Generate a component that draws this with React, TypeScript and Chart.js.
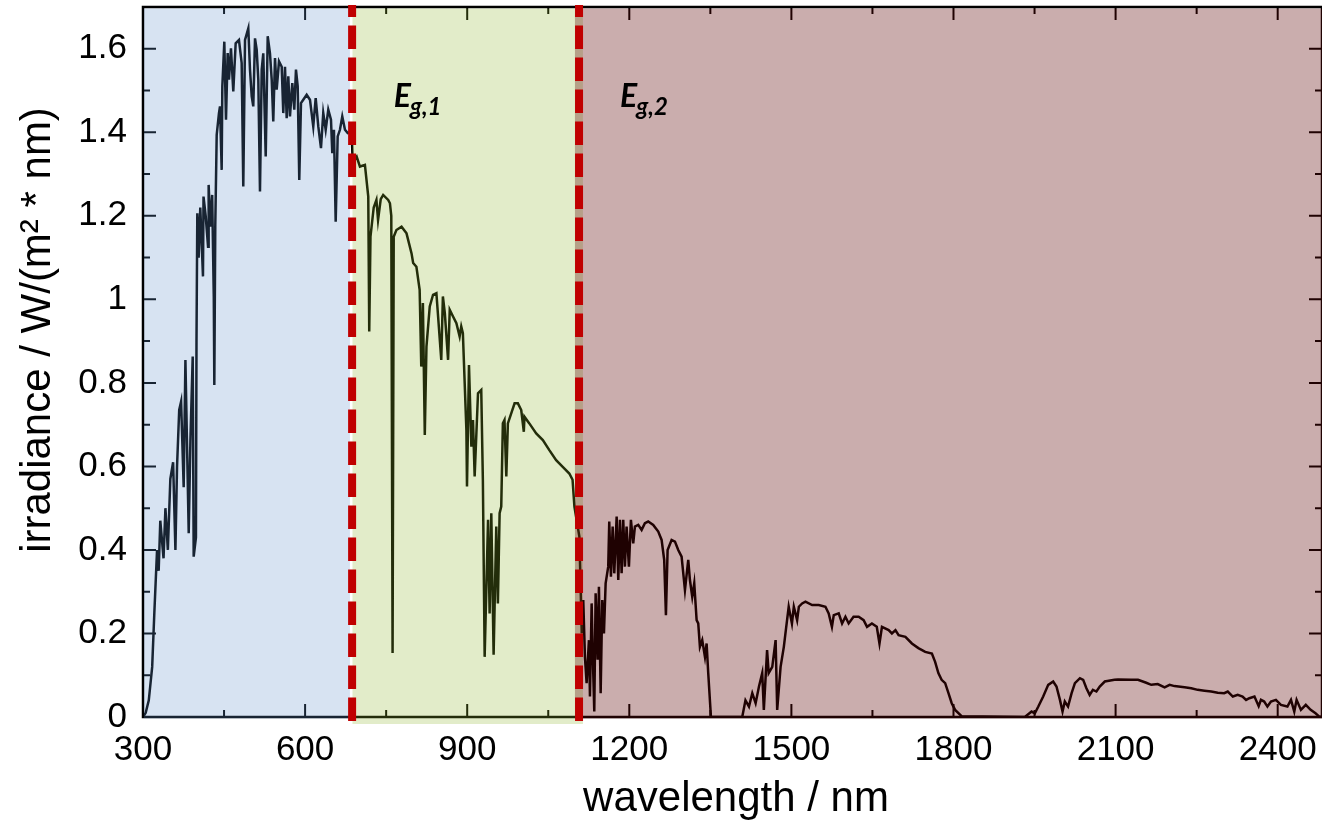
import React, { useEffect, useRef } from "react";
import { Chart, registerables } from "chart.js";

Chart.register(...registerables);

// AM1.5 solar spectrum: [wavelength nm, irradiance W/(m² nm)]
const SPECTRUM_UV_VIS = [
  [300, 0], [305, 0.01], [310.7, 0.04], [317, 0.12], [321, 0.25], [326, 0.4], [329, 0.35], [332, 0.47],
  [338, 0.38], [341.5, 0.5], [346, 0.4], [350.6, 0.57], [355.7, 0.61], [360, 0.4], [363, 0.6], [367, 0.735],
  [370.5, 0.755], [375.3, 0.55], [378.5, 0.855], [384.6, 0.44], [387.7, 0.66], [392, 0.863], [393.8, 0.384],
  [398, 0.43], [399, 0.9], [400.5, 1.206], [403, 1.1], [406, 1.22], [411, 1.055], [412, 1.246], [416, 1.2],
  [420.4, 1.126], [421.5, 1.274], [424.6, 1.174], [428, 1.25], [431, 1.007], [432, 0.795], [433.8, 1.18],
  [436.4, 1.394], [440.6, 1.446], [442.5, 1.462], [445.6, 1.31], [446.8, 1.51], [450.5, 1.617], [453.6, 1.43],
  [456.7, 1.59], [459.1, 1.526], [462.8, 1.601], [467.1, 1.498], [471.5, 1.613], [477.6, 1.621], [482.6, 1.566],
  [485.6, 1.27], [488.8, 1.621], [494.9, 1.649], [498, 1.55], [501.2, 1.486], [504.1, 1.462], [507.3, 1.625],
  [510.4, 1.598], [513.4, 1.526], [516.5, 1.258], [519.7, 1.55], [522.6, 1.589], [527.1, 1.342], [530.8, 1.63],
  [535, 1.589], [538.2, 1.526], [541.1, 1.426], [544.3, 1.578], [547.4, 1.502], [551.7, 1.57], [556.7, 1.557],
  [559.6, 1.446], [562.8, 1.557], [565.9, 1.434], [568.9, 1.534], [572, 1.438], [576.3, 1.518], [580, 1.454],
  [583.1, 1.55], [586.3, 1.51], [589.2, 1.286], [592.4, 1.47], [596.6, 1.478], [602.9, 1.49], [609, 1.478],
  [615.1, 1.414], [619.6, 1.482], [624.4, 1.414], [629.4, 1.362], [633.6, 1.446], [638.1, 1.406], [642.9, 1.454],
  [647.9, 1.43], [650.3, 1.35], [653.4, 1.406], [656.6, 1.186], [660.3, 1.39], [664.5, 1.406], [668.8, 1.438],
  [673.8, 1.406], [678.8, 1.398], [683, 1.4], [686, 1.41],
];

const SPECTRUM_NIR_1 = [
  [688, 1.33], [695.4, 1.342], [701.5, 1.318], [710.7, 1.322], [716.9, 1.246], [718.7, 0.923], [721, 1.15],
  [727, 1.22], [732, 1.238], [735, 1.19], [740, 1.24], [744.5, 1.25], [753.8, 1.238], [757, 1.23], [759.5, 1.2],
  [761.9, 0.153], [764, 1.15], [769, 1.166], [778.5, 1.174], [787.7, 1.158], [797, 1.11], [800, 1.087],
  [806, 1.078], [812, 1.023], [815, 0.839], [818, 0.991], [821.5, 0.675], [824.6, 0.887], [830.7, 0.983],
  [836.8, 1.011], [843, 1.015], [852, 0.855], [855, 1.007], [858.6, 0.967], [864.6, 0.855], [867.7, 0.975],
  [873.8, 0.959], [880, 0.943], [886, 0.911], [889, 0.935], [892, 0.919], [898.5, 0.687], [899.6, 0.552],
  [903.3, 0.843], [907.7, 0.647], [910.7, 0.711], [913.8, 0.576], [920, 0.775], [926, 0.783], [929, 0.568],
  [932.3, 0.144], [938.6, 0.472], [941.5, 0.248], [944.6, 0.488], [948.9, 0.149], [953.8, 0.456], [956.8, 0.272],
  [960, 0.488], [963, 0.504], [966, 0.703], [969, 0.711], [972.4, 0.576], [975.3, 0.703], [981.5, 0.727],
  [987.7, 0.751], [993.8, 0.751], [1000, 0.735], [1004.8, 0.683], [1006, 0.719], [1015, 0.703], [1027.7, 0.679],
  [1040, 0.663], [1052, 0.639], [1064.6, 0.615], [1076.8, 0.599], [1089, 0.583], [1095, 0.568], [1098.4, 0.504],
  [1107.6, 0.432],
];

const SPECTRUM_NIR_2 = [
  [1112, 0.2], [1114.8, 0.28], [1117.9, 0.144], [1121, 0.081], [1125.3, 0.184], [1127.2, 0.049], [1130.3, 0.272],
  [1133.3, 0.105], [1135.2, 0.013], [1137.7, 0.296], [1141.4, 0.137], [1143.8, 0.312], [1147, 0.057], [1150, 0.28],
  [1153.1, 0.2], [1156.2, 0.32], [1161, 0.36], [1162.9, 0.468], [1166, 0.336], [1169.2, 0.456], [1172.2, 0.344],
  [1176.6, 0.48], [1179.6, 0.328], [1182.7, 0.472], [1185.8, 0.344], [1188.8, 0.472], [1191.9, 0.36], [1195, 0.456],
  [1199.3, 0.36], [1203, 0.472], [1207.3, 0.416], [1210.4, 0.456], [1216.6, 0.46], [1222.8, 0.448], [1228.9, 0.464],
  [1235, 0.468], [1244.3, 0.46], [1253.6, 0.444], [1259.8, 0.424], [1264.6, 0.376], [1267.8, 0.244], [1270.9, 0.4],
  [1278.3, 0.424], [1284.5, 0.42], [1290.6, 0.4], [1296.8, 0.384], [1303, 0.304], [1309.1, 0.376], [1312.2, 0.328],
  [1316.5, 0.288], [1320.2, 0.32], [1324.6, 0.232], [1327.6, 0.224], [1330.7, 0.168], [1335, 0.184], [1340, 0.144],
  [1343.1, 0.176], [1346.1, 0.105], [1351.1, 0], [1409, 0], [1415, 0.04], [1421.5, 0.025], [1427.6, 0.057],
  [1433.8, 0.033], [1440, 0.073], [1446, 0.105], [1449, 0.017], [1455, 0.16], [1458, 0.105], [1464.6, 0.12],
  [1470.8, 0.184], [1473.7, 0.017], [1480, 0.12], [1486, 0.168], [1489, 0.2], [1495, 0.264], [1501, 0.224],
  [1504.5, 0.264], [1510.6, 0.232], [1513.8, 0.264], [1519.9, 0.272], [1526, 0.276], [1538.4, 0.268],
  [1550.7, 0.268], [1563, 0.264], [1569, 0.248], [1575, 0.216], [1578.4, 0.244], [1587.6, 0.248], [1593.8, 0.224],
  [1600, 0.24], [1606, 0.224], [1615, 0.24], [1624.5, 0.24], [1633.7, 0.232], [1640, 0.216], [1649, 0.224],
  [1658, 0.216], [1663, 0.176], [1667.6, 0.216], [1680, 0.208], [1686, 0.2], [1692.6, 0.208], [1698.4, 0.196],
  [1711, 0.192], [1723, 0.176], [1735, 0.165], [1747.7, 0.156], [1760, 0.152], [1766, 0.132], [1772, 0.105],
  [1778, 0.089], [1784.6, 0.081], [1790.7, 0.057], [1796.7, 0.033], [1803, 0.017], [1815, 0.002], [1932, 0],
  [1944.5, 0.013], [1950.6, 0.009], [1957, 0.025], [1966, 0.049], [1975.3, 0.077], [1984.5, 0.085],
  [1990.6, 0.073], [1997, 0.041], [2001.8, 0.013], [2006, 0.037], [2012, 0.025], [2018.6, 0.057], [2024.7, 0.081],
  [2034, 0.093], [2040, 0.089], [2046, 0.069], [2052, 0.053], [2058, 0.065], [2064.5, 0.061], [2070.7, 0.073],
  [2080, 0.085], [2098, 0.089], [2104.5, 0.09], [2129, 0.089], [2141.5, 0.089], [2156.7, 0.082], [2166, 0.077],
  [2178, 0.079], [2190.7, 0.071], [2200, 0.077], [2209, 0.074], [2227.6, 0.071], [2240, 0.069], [2252, 0.065],
  [2264.5, 0.063], [2277, 0.061], [2289, 0.058], [2301, 0.057], [2307.6, 0.061], [2317, 0.049], [2326, 0.053],
  [2335, 0.049], [2341.5, 0.041], [2347.6, 0.045], [2357, 0.049], [2364.8, 0.026], [2369, 0.041], [2375, 0.037],
  [2381, 0.025], [2387.5, 0.037], [2396.7, 0.041], [2406, 0.029], [2418, 0.025], [2424.6, 0.041], [2430.7, 0.013],
  [2435, 0.041], [2443, 0.017], [2452, 0.029], [2461, 0.017], [2470, 0.009], [2477, 0.001], [2482, 0],
];

const X_TICKS = [300, 600, 900, 1200, 1500, 1800, 2100, 2400];
const X_MINOR_TICKS = [450, 750, 1050, 1350, 1650, 1950, 2250];
const Y_TICKS = [0, 0.2, 0.4, 0.6, 0.8, 1, 1.2, 1.4, 1.6];
const Y_MINOR_TICKS = [0.1, 0.3, 0.5, 0.7, 0.9, 1.1, 1.3, 1.5];

// band-gap wavelengths (dashed lines) and labels
const BANDGAP_NM = [687, 1107];
const BANDGAP_SUB = ["g,1", "g,2"];
const LABEL_NM = [764, 1183];
const LABEL_Y = 1.461;

// shaded regions (wavelength ranges)
const REGION_START = [300, 687.7, 1099.4];
const REGION_END = [683, 1114.2, 2482];
const REGION_COLORS = ["rgba(95,143,203,0.25)", "rgba(139,179,39,0.25)", "rgba(94,7,7,0.33)"];

const X_MIN = 300;
const X_MAX = 2482;
const Y_MIN = 0;
const Y_MAX = 1.7;

const FONT = '"Liberation Sans", Arial, sans-serif';

const decorPlugin = {
  id: "decor",
  afterDatasetsDraw(chart: any) {
    const { ctx, chartArea: a, scales } = chart;
    const x = scales.x;
    const y = scales.y;
    ctx.save();
    // frame
    ctx.strokeStyle = "#000";
    ctx.lineWidth = 2.5;
    ctx.strokeRect(a.left, a.top, a.right - a.left, a.bottom - a.top);
    // ticks (inward, all four sides)
    ctx.lineWidth = 2;
    ctx.beginPath();
    const xt = (v: number, len: number) => {
      const px = x.getPixelForValue(v);
      ctx.moveTo(px, a.bottom);
      ctx.lineTo(px, a.bottom - len);
      ctx.moveTo(px, a.top);
      ctx.lineTo(px, a.top + len);
    };
    const yt = (v: number, len: number) => {
      const py = y.getPixelForValue(v);
      ctx.moveTo(a.left, py);
      ctx.lineTo(a.left + len, py);
      ctx.moveTo(a.right, py);
      ctx.lineTo(a.right - len, py);
    };
    X_TICKS.forEach((v) => xt(v, 13));
    X_MINOR_TICKS.forEach((v) => xt(v, 7));
    Y_TICKS.forEach((v) => yt(v, 13));
    Y_MINOR_TICKS.forEach((v) => yt(v, 7));
    ctx.stroke();
    // shaded overlays
    REGION_START.forEach((s, i) => {
      const x0 = Math.max(x.getPixelForValue(s), a.left + 1);
      const x1 = x.getPixelForValue(REGION_END[i]);
      const bottom = i === 1 ? a.bottom + 7 : a.bottom + 1.5;
      ctx.fillStyle = REGION_COLORS[i];
      ctx.fillRect(x0, a.top + 1.5, x1 - x0, bottom - a.top - 1.5);
    });
    // dashed band-gap lines
    ctx.strokeStyle = "#C00000";
    ctx.lineWidth = 8;
    ctx.setLineDash([23.5, 8.5]);
    ctx.lineDashOffset = 11.5;
    BANDGAP_NM.forEach((nm) => {
      const px = x.getPixelForValue(nm);
      ctx.beginPath();
      ctx.moveTo(px, a.top - 2);
      ctx.lineTo(px, a.bottom + 4);
      ctx.stroke();
    });
    ctx.setLineDash([]);
    // labels E_g,1 / E_g,2
    ctx.fillStyle = "#000";
    ctx.textAlign = "left";
    ctx.textBaseline = "alphabetic";
    LABEL_NM.forEach((nm, i) => {
      const px = x.getPixelForValue(nm);
      const py = y.getPixelForValue(LABEL_Y);
      ctx.font = 'italic bold 32px Lato, "Open Sans", sans-serif';
      ctx.fillText("E", px, py);
      const w = ctx.measureText("E").width;
      ctx.font = 'italic bold 24px Lato, "Open Sans", sans-serif';
      ctx.fillText(BANDGAP_SUB[i], px + w - 1, py + 8);
    });
    ctx.restore();
  },
  afterDraw(chart: any) {
    const { ctx } = chart;
    ctx.save();
    ctx.fillStyle = "#000";
    ctx.font = `42px ${FONT}`;
    ctx.textAlign = "center";
    ctx.textBaseline = "alphabetic";
    ctx.fillText("wavelength / nm", 736, 811);
    ctx.translate(50, 330);
    ctx.rotate(-Math.PI / 2);
    ctx.fillText("irradiance / W/(m² * nm)", 0, 0);
    ctx.restore();
  },
};

export default function App() {
  const ref = useRef<HTMLCanvasElement>(null);
  useEffect(() => {
    const points = [...SPECTRUM_UV_VIS, ...SPECTRUM_NIR_1, ...SPECTRUM_NIR_2].map(([w, v]) => ({ x: w, y: v }));
    const chart = new Chart(ref.current as HTMLCanvasElement, {
      type: "line",
      data: {
        datasets: [
          {
            data: points,
            borderColor: "#000",
            borderWidth: 2.5,
            pointRadius: 0,
            tension: 0,
            fill: false,
          },
        ],
      },
      options: {
        responsive: false,
        devicePixelRatio: 1,
        animation: false,
        events: [],
        layout: { padding: { left: 0, top: 7, right: 0, bottom: 0 } },
        plugins: { legend: { display: false }, tooltip: { enabled: false } },
        scales: {
          x: {
            type: "linear",
            position: "bottom",
            min: X_MIN,
            max: X_MAX,
            grid: { display: false, drawTicks: false },
            border: { display: false },
            afterBuildTicks: (s: any) => {
              s.ticks = X_TICKS.map((v) => ({ value: v }));
            },
            afterFit: (s: any) => {
              s.height = 105;
              s.paddingLeft = 0;
              s.paddingRight = 0;
              s.paddingTop = 0;
              s.paddingBottom = 0;
            },
            ticks: {
              autoSkip: false,
              maxRotation: 0,
              padding: 12,
              color: "#000",
              font: { family: FONT, size: 35 },
              callback: (v: any) => String(v),
            },
          },
          y: {
            type: "linear",
            min: Y_MIN,
            max: Y_MAX,
            grid: { display: false, drawTicks: false },
            border: { display: false },
            afterBuildTicks: (s: any) => {
              s.ticks = Y_TICKS.map((v) => ({ value: v }));
            },
            afterFit: (s: any) => {
              s.width = 143;
              s.paddingLeft = 0;
              s.paddingRight = 0;
              s.paddingTop = 0;
              s.paddingBottom = 0;
            },
            ticks: {
              padding: 16,
              color: "#000",
              font: { family: FONT, size: 35 },
              callback: (v: any) => String(Number(Number(v).toFixed(1))),
            },
          },
        },
      },
      plugins: [decorPlugin],
    } as any);
    return () => chart.destroy();
  }, []);
  return (
    <div style={{ position: "fixed", left: 0, top: 0, width: 1322, height: 822, background: "#fff", overflow: "hidden" }}>
      <canvas ref={ref} width={1322} height={822} style={{ display: "block", width: 1322, height: 822 }} />
    </div>
  );
}
